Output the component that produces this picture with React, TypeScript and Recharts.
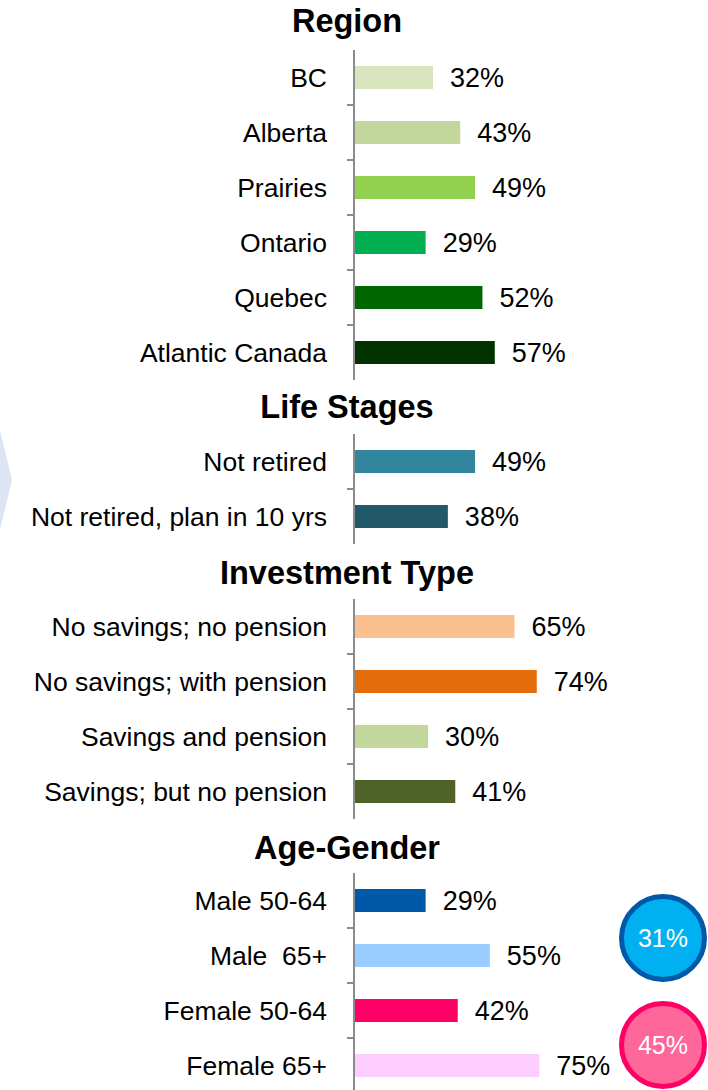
import React from 'react';
import { BarChart, Bar, XAxis, YAxis, Cell, LabelList } from 'recharts';

// Region
const regionNames = ['BC', 'Alberta', 'Prairies', 'Ontario', 'Quebec', 'Atlantic Canada'];
const regionValues = [32, 43, 49, 29, 52, 57];
const regionColors = ['#D7E4BD', '#C3D69B', '#92D050', '#00B050', '#006600', '#003300'];

// Life stages
const lifeNames = ['Not retired', 'Not retired, plan in 10 yrs'];
const lifeValues = [49, 38];
const lifeColors = ['#31859C', '#215968'];

// Investment type
const investNames = [
  'No savings; no pension',
  'No savings; with pension',
  'Savings and pension',
  'Savings; but no pension',
];
const investValues = [65, 74, 30, 41];
const investColors = ['#FAC090', '#E46C0A', '#C3D69B', '#4F6228'];

// Age-gender
const ageNames = ['Male 50-64', 'Male  65+', 'Female 50-64', 'Female 65+'];
const ageValues = [29, 55, 42, 75];
const ageColors = ['#0058A8', '#99CCFF', '#FF0066', '#FFCCFF'];

// gender totals shown in the circles
const genderTotals = [31, 45];
const genderFills = ['#00B0F0', '#FF6699'];
const genderStrokes = ['#0058A8', '#FF0066'];

const FONT = '"Liberation Sans", Arial, sans-serif';
const ROW = 55;
const AXIS_X = 354;
const AXIS_COLOR = '#8C8C8C';

function renderTick(props: any, count: number) {
  const { x, y, payload, index } = props;
  return (
    <g>
      <text
        x={x}
        y={y}
        dy="0.37em"
        textAnchor="end"
        fontSize={26.5}
        fill="#000"
        fontFamily={FONT}
        style={{ whiteSpace: 'pre' }}
      >
        {payload.value}
      </text>
      {index < count - 1 && (
        <line
          x1={AXIS_X - 7}
          x2={AXIS_X}
          y1={y + ROW / 2}
          y2={y + ROW / 2}
          stroke={AXIS_COLOR}
          strokeWidth={2}
        />
      )}
    </g>
  );
}

interface SectionProps {
  title: string;
  titleTop: number;
  chartTop: number;
  names: string[];
  values: number[];
  colors: string[];
}

function Section({ title, titleTop, chartTop, names, values, colors }: SectionProps) {
  const data = names.map((name, i) => ({ name, value: values[i] }));
  return (
    <>
      <div
        style={{
          position: 'absolute',
          left: 0,
          top: titleTop,
          width: 694,
          textAlign: 'center',
          fontWeight: 'bold',
          fontSize: 32.5,
          lineHeight: '40px',
          color: '#000',
        }}
      >
        {title}
      </div>
      <div style={{ position: 'absolute', left: 0, top: chartTop }}>
        <BarChart
          width={708}
          height={names.length * ROW}
          data={data}
          layout="vertical"
          margin={{ top: 0, right: 107, bottom: 0, left: 0 }}
        >
          <XAxis type="number" domain={[0, 100]} hide />
          <YAxis
            type="category"
            dataKey="name"
            width={AXIS_X}
            interval={0}
            axisLine={{ stroke: AXIS_COLOR, strokeWidth: 2 }}
            tickLine={false}
            tickSize={6}
            tickMargin={21}
            tick={(p: any) => renderTick(p, names.length)}
          />
          <Bar dataKey="value" barSize={23} isAnimationActive={false}>
            {colors.map((c, i) => (
              <Cell key={i} fill={c} />
            ))}
            <LabelList
              dataKey="value"
              position="right"
              offset={17}
              formatter={(v: any) => `${v}%`}
              fill="#000"
              fontSize={27}
              fontFamily={FONT}
            />
          </Bar>
        </BarChart>
      </div>
    </>
  );
}

export default function App() {
  return (
    <div
      style={{
        position: 'absolute',
        left: 0,
        top: 0,
        width: 708,
        height: 1090,
        overflow: 'hidden',
        background: '#fff',
        fontFamily: FONT,
      }}
    >
      <svg width={708} height={1090} style={{ position: 'absolute', left: 0, top: 0 }}>
        <polygon points="0,430 12,480 0,530" fill="#DCE6F2" />
      </svg>

      <Section title="Region" titleTop={1} chartTop={50} names={regionNames} values={regionValues} colors={regionColors} />
      <Section title="Life Stages" titleTop={387} chartTop={434} names={lifeNames} values={lifeValues} colors={lifeColors} />
      <Section title="Investment Type" titleTop={553} chartTop={599} names={investNames} values={investValues} colors={investColors} />
      <Section title="Age-Gender" titleTop={828} chartTop={873} names={ageNames} values={ageValues} colors={ageColors} />

      <svg width={708} height={1090} style={{ position: 'absolute', left: 0, top: 0, pointerEvents: 'none' }}>
        {genderTotals.map((v, i) => (
          <g key={i}>
            <circle
              cx={663}
              cy={938 + i * 107}
              r={41.5}
              fill={genderFills[i]}
              stroke={genderStrokes[i]}
              strokeWidth={5}
            />
            <text
              x={663}
              y={938 + i * 107}
              dy="0.36em"
              textAnchor="middle"
              fill="#fff"
              fontSize={25}
              fontFamily={FONT}
            >
              {`${v}%`}
            </text>
          </g>
        ))}
      </svg>
    </div>
  );
}
